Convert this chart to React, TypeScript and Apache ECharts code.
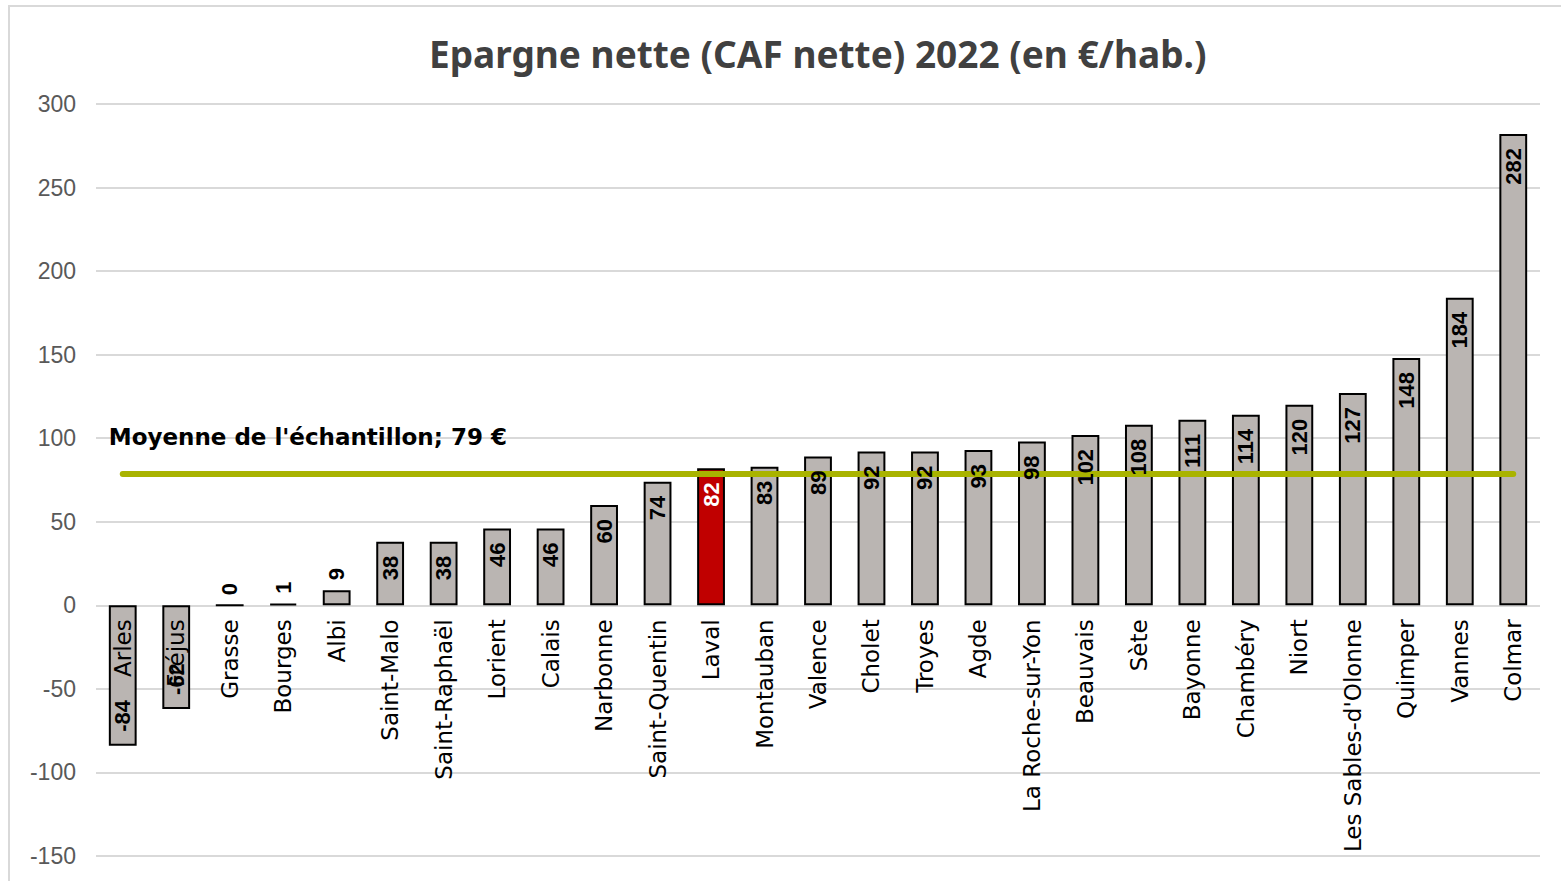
import React, { useEffect, useRef } from "react";
import * as echarts from "echarts";

const categories = [
  "Arles", "Fréjus", "Grasse", "Bourges", "Albi", "Saint-Malo", "Saint-Raphaël",
  "Lorient", "Calais", "Narbonne", "Saint-Quentin", "Laval", "Montauban", "Valence",
  "Cholet", "Troyes", "Agde", "La Roche-sur-Yon", "Beauvais", "Sète", "Bayonne",
  "Chambéry", "Niort", "Les Sables-d'Olonne", "Quimper", "Vannes", "Colmar",
];
const values = [
  -84, -62, 0, 1, 9, 38, 38, 46, 46, 60, 74, 82, 83, 89, 92, 92, 93, 98, 102, 108,
  111, 114, 120, 127, 148, 184, 282,
];
const highlighted = "Laval";
const meanValue = 79;
const meanLabel = "Moyenne de l'échantillon; 79 €";
const titleText = "Epargne nette (CAF nette) 2022 (en €/hab.)";
const yMin = -150;
const yMax = 300;
const yStep = 50;

const catFont = "'DejaVu Sans', 'Noto Sans', sans-serif";

const W = 1561;
const H = 881;
const GRID = { left: 96, right: 21, top: 104, bottom: 25 };

export default function App() {
  const ref = useRef<HTMLDivElement>(null);
  useEffect(() => {
    if (!ref.current) return;
    const chart = echarts.init(ref.current, null, { renderer: "svg" });
    const plotH = H - GRID.top - GRID.bottom;
    // place the category axis on the value 0 line
    const zeroOffset = -(plotH * (0 - yMin)) / (yMax - yMin);
    const barData = values.map((v, i) => ({
      value: v,
      itemStyle: { color: categories[i] === highlighted ? "#C00000" : "#BAB5B2" },
    }));
    const labelData = values.map((v, i) => {
      const isHi = categories[i] === highlighted;
      let label: any;
      if (v < 0) {
        label = { position: "insideBottom", align: "left", verticalAlign: "middle", distance: 14 };
      } else if (v < 15) {
        label = { position: "top", align: "left", verticalAlign: "middle", distance: 10 };
      } else {
        label = { position: "insideTop", align: "right", verticalAlign: "middle", distance: 14 };
      }
      return {
        value: v,
        label: { ...label, color: isHi ? "#FFFFFF" : "#000000" },
      };
    });
    chart.setOption({
      animation: false,
      title: {
        text: titleText,
        left: 424,
        top: 30,
        textStyle: { fontSize: 37, fontWeight: "bold", color: "#404040", fontFamily: "'Noto Sans', sans-serif" },
      },
      graphic: [
        {
          type: "rect",
          shape: { x: 9, y: 6, width: 1700, height: 1000 },
          style: { fill: "none", stroke: "#D9D9D9", lineWidth: 2 },
          silent: true,
        },
      ],
      grid: { ...GRID, containLabel: false, outerBoundsMode: "none" },
      xAxis: {
        type: "category",
        data: categories,
        offset: zeroOffset,
        axisLine: { show: false },
        axisTick: { show: false },
        axisLabel: {
          rotate: 90,
          interval: 0,
          margin: 14,
          fontSize: 23,
          color: "#000000",
          fontFamily: catFont,
        },
        z: 8,
      },
      yAxis: {
        type: "value",
        min: yMin,
        max: yMax,
        interval: yStep,
        axisLine: { show: false },
        axisTick: { show: false },
        axisLabel: { fontSize: 23, color: "#595959", margin: 20, fontFamily: "'Liberation Sans', Arial, sans-serif" },
        splitLine: { lineStyle: { color: "#D9D9D9", width: 2 } },
      },
      series: [
        {
          type: "bar",
          data: barData,
          barWidth: "52%",
          z: 4,
          itemStyle: { borderColor: "#000000", borderWidth: 2 },
          markLine: {
            silent: true,
            symbol: "none",
            z: 10,
            lineStyle: { color: "#A9B300", width: 6, type: "solid", cap: "round" },
            label: {
              show: true,
              formatter: meanLabel,
              position: "insideStartTop",
              distance: [-14, 25],
              fontSize: 23,
              fontWeight: "bold",
              color: "#000000",
              fontFamily: catFont,
            },
            data: [
              [
                { coord: [categories[0], meanValue] },
                { coord: [categories[categories.length - 1], meanValue] },
              ],
            ],
          },
        },
        {
          type: "bar",
          data: labelData,
          barWidth: "52%",
          barGap: "-100%",
          z: 20,
          silent: true,
          itemStyle: { color: "rgba(0,0,0,0)", borderWidth: 0 },
          label: {
            show: true,
            rotate: 90,
            fontSize: 22,
            fontWeight: "bold",
            fontFamily: "'Liberation Sans', Arial, sans-serif",
          },
        },
      ],
    });
    return () => chart.dispose();
  }, []);
  return (
    <div
      ref={ref}
      style={{ position: "fixed", left: 0, top: 0, width: W, height: H, background: "#FFFFFF" }}
    />
  );
}
